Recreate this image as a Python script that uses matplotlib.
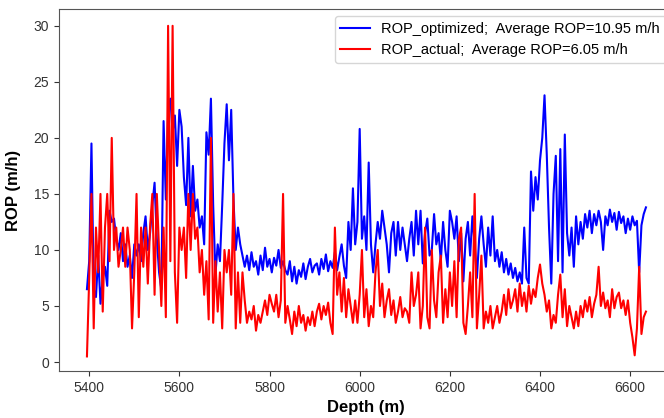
import matplotlib
matplotlib.use('Agg')
import matplotlib.pyplot as plt
import numpy as np

plt.rcParams.update({'font.family': ['Liberation Sans', 'DejaVu Sans']})
plt.rcParams.update({'font.size': 10})

# depth grid (m), one reading every 5 m
depth_start = 5395
depth_step = 5

# ROP, in blocks of depth
rop_opt = (
    [6.5] +
    # 5400-5500
    [9, 19.5, 6.5, 5.8, 9.5, 5.2, 7.5, 8.5, 6.8, 13.5, 12.5, 12.8, 11, 10, 11.5, 9, 10.5, 8.5, 9.5, 7.5, 10.5] +
    # 5505-5600
    [9.5, 10.5, 9, 11.5, 13, 10, 11.5, 14, 16, 11, 8, 6.5, 21.5, 14.5, 22, 23.5, 20.5, 22, 17.5, 22.5] +
    # 5605-5700
    [21, 16.5, 14, 20, 13, 17.5, 13.5, 14.5, 12, 13, 10.5, 20.5, 18.5, 23.5, 14, 7.8, 10.5, 9, 14, 19.5] +
    # 5705-5800
    [23, 18, 22.5, 14.5, 10, 12, 10.5, 9.5, 8.5, 9.5, 8.2, 9.8, 8.5, 9, 7.8, 9.5, 8.2, 10.2, 8.5, 9.2] +
    # 5805-5900
    [8, 9.3, 8.6, 10, 8.4, 9, 8.2, 7.8, 9, 7.2, 8.5, 7, 8.2, 7.6, 8.8, 7.4, 8.5, 9.2, 8, 8.6] +
    # 5905-6000
    [8.8, 7.8, 9.2, 8.3, 9.6, 8.1, 9, 8.4, 9.8, 8.2, 9.4, 10.5, 8.6, 7.5, 12.5, 10, 15.5, 10.5, 12.5, 20.8] +
    # 6005-6100
    [11, 13, 10, 17.8, 10.5, 8, 10.5, 12.5, 11, 13.5, 12, 10.5, 8, 11.5, 12.5, 9.5, 12.5, 10, 12, 10.5] +
    # 6105-6200
    [9, 11, 12.5, 9.5, 13.5, 10.5, 13.5, 8.8, 11.5, 12.8, 9.5, 10, 13.2, 10.5, 11.5, 9, 12.5, 10, 8.5, 13.5] +
    # 6205-6300
    [12.5, 11, 13, 9, 11.5, 7.2, 11, 12.5, 9.5, 13, 10.5, 7.5, 11, 13, 10.5, 8.5, 12, 9.5, 13, 9] +
    # 6305-6400
    [10, 8.5, 9.8, 8, 9.2, 7.8, 8.8, 7.5, 8.4, 7.2, 8, 7, 12, 7.5, 7, 17, 13.5, 16.5, 14.5, 18] +
    # 6405-6500
    [20, 23.8, 18.5, 12, 7, 15, 18.4, 9, 19, 8, 20.3, 11.5, 9.5, 12, 8.5, 13, 10.5, 12.5, 11, 13.2] +
    # 6505-6635
    [12, 13.5, 11.5, 13.2, 12.2, 13.5, 12.5, 10, 13, 12.2, 13.6, 12.5, 13.3, 11.8, 13.4, 12.4, 13,
     11.5, 12.8, 11.8, 13, 12.2, 12.6, 8, 12.2, 13.2, 13.8]
)

rop_act = (
    [0.5] +
    # 5400-5500
    [7.5, 15, 3, 12, 8, 15, 4.5, 12, 15, 9, 20, 10, 12, 8.5, 10, 12, 8.5, 12, 10, 3, 8] +
    # 5505-5600
    [15, 4, 12, 8.5, 12, 7, 12, 15, 6, 15, 10, 5, 12, 4, 30, 9, 30, 8, 3.5, 12] +
    # 5605-5700
    [10, 12, 7.5, 15, 10, 15, 11, 12, 8, 10, 6, 9, 3.8, 20, 3.5, 9, 4.5, 8, 3, 10] +
    # 5705-5800
    [8, 10, 6, 15, 3, 8, 3.5, 8, 5.5, 3.5, 4.5, 3.8, 5, 2.8, 4.2, 3.5, 4.5, 5.5, 4.2, 6] +
    # 5805-5900
    [5.2, 4.5, 6, 4, 5.5, 15, 3.5, 5, 3.8, 2.5, 4.5, 3.2, 5, 3.5, 4.2, 2.8, 4, 3.3, 4.5, 3.2] +
    # 5905-6000
    [4.5, 5.2, 3.8, 5, 4.2, 5.3, 3.5, 2.5, 12, 6, 8, 4.5, 7.5, 4, 6.5, 5, 3.5, 5.5, 3.5, 6] +
    # 6005-6100
    [10, 4, 6.5, 3.2, 5, 4, 8, 10, 5, 7, 4, 5.5, 6.5, 4.2, 5.5, 3.5, 4.5, 5.8, 4, 4.8] +
    # 6105-6200
    [4.5, 3.5, 8, 5, 6, 8, 3, 5, 12, 4, 3, 10, 5.5, 4, 8, 9.5, 3.5, 6.5, 4, 8] +
    # 6205-6300
    [5, 9, 4, 11, 12, 3.5, 2.5, 5, 8, 4, 15, 3, 6, 9.5, 3, 4.5, 3.5, 5, 3, 4] +
    # 6305-6400
    [5, 3.5, 4.5, 6, 4.2, 6.5, 4.8, 5.5, 6.5, 4.5, 7, 5, 6.2, 4.5, 6.8, 5.2, 6.5, 5.8, 7.5, 8.7] +
    # 6405-6500
    [7, 6, 4.5, 5.5, 3, 4.2, 3.5, 6, 7.8, 4, 6.5, 3.2, 5, 4, 3, 4.5, 3.2, 5, 4, 5.5] +
    # 6505-6635
    [4.5, 5.8, 4, 5.2, 6, 8.5, 5, 6.2, 4.8, 5.5, 4, 6.5, 4.8, 5.8, 6.2, 4.8, 5.5,
     4.2, 5.5, 3.5, 2.2, 0.6, 3, 8.5, 2.5, 4, 4.5]
)

depth = depth_start + depth_step * np.arange(len(rop_opt))

lbl_opt = 'ROP_optimized;  Average ROP=10.95 m/h'
lbl_act = 'ROP_actual;  Average ROP=6.05 m/h'

fig = plt.figure(figsize=(6.64, 4.18), dpi=100)
W, H = 664, 418
ax = fig.add_axes([59/W, 1 - 371/H, (673 - 59)/W, (371 - 9)/H])

ax.plot(depth, rop_opt, color='blue', linewidth=1.5, label=lbl_opt)
ax.plot(depth, rop_act, color='red', linewidth=1.5, label=lbl_act)

ax.set_xlim(5333, 6695)
ax.set_ylim(-0.8, 31.5)
ax.set_xticks([5400, 5600, 5800, 6000, 6200, 6400, 6600])
ax.set_yticks([0, 5, 10, 15, 20, 25, 30])
ax.tick_params(labelsize=10, colors='#333333')
for s in ax.spines.values():
    s.set_color('#555555')

ax.set_xlabel('Depth (m)', fontsize=12, fontweight='bold')
ax.set_ylabel('ROP (m/h)', fontsize=12, fontweight='bold', labelpad=9)

ax.legend(loc='upper right', fontsize=10.5)

fig.savefig('out.png', dpi=100)
